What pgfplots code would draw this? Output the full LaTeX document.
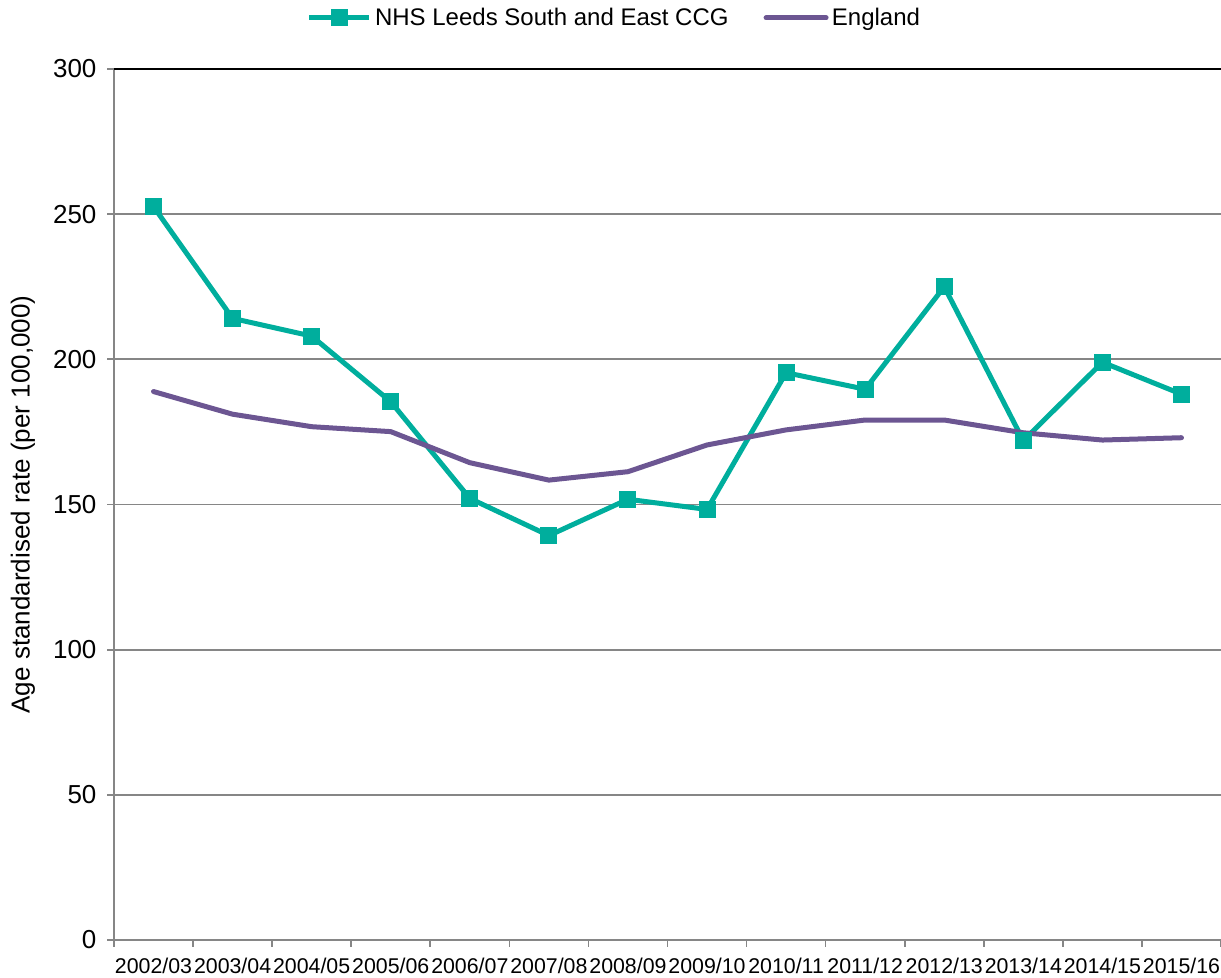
\documentclass[border=0pt]{standalone}
\usepackage{pgfplots}
\pgfplotsset{compat=1.18}
\usepackage{fontspec}
\setmainfont{Liberation Sans}
\definecolor{teal1}{RGB}{0,174,157}
\definecolor{purp}{RGB}{108,86,146}
\definecolor{gridg}{RGB}{134,134,134}
\begin{document}
\begin{tikzpicture}
\begin{axis}[
  name=ax,
  scale only axis,
  width=664.2pt, height=522.6pt,
  xmin=-0.5, xmax=13.5,
  ymin=0, ymax=300,
  axis x line*=bottom, axis y line*=left,
  axis line style={gridg, line width=1.3pt},
  xtick={0,...,13},
  xticklabels={2002/03,2003/04,2004/05,2005/06,2006/07,2007/08,2008/09,2009/10,2010/11,2011/12,2012/13,2013/14,2014/15,2015/16},
  minor xtick={-0.5,0.5,...,13.5},
  major x tick style={draw=none},
  minor x tick style={gridg, line width=1pt},
  minor tick length=4pt,
  ytick={0,50,...,250},
  extra y ticks={300},
  extra y tick style={grid style={black, line width=1.3pt}},
  ymajorgrids,
  grid style={gridg, line width=1.1pt},
  y tick style={gridg, line width=1pt},
  major tick length=4pt,
  tick align=outside,
  /pgf/number format/assume math mode=true,
  yticklabel style={font=\fontsize{15.6}{18}\selectfont, xshift=-3pt},
  xticklabel style={font=\fontsize{12.8}{15}\selectfont, yshift=-3pt},
  ylabel={Age standardised rate (per 100,000)},
  ylabel style={font=\fontsize{15.6}{18}\selectfont, yshift=-4pt},
  legend style={at={(0.4526,1.0586)}, anchor=center, draw=none, fill=none,
    font=\fontsize{14.4}{17}\selectfont, legend columns=2,
    /tikz/every even column/.append style={column sep=19pt}},
  legend image code/.code={\draw[mark repeat=2,mark phase=2] plot coordinates {(0pt,0pt)(18pt,0pt)(36pt,0pt)};},
  clip=false,
]
\addplot[teal1, line width=3pt, mark=square*, mark size=4.8pt, mark options={solid, line width=0pt}] coordinates {
(0,252.6) (1,214.1) (2,208.0) (3,185.4) (4,152.1) (5,139.3) (6,151.8) (7,148.3) (8,195.4) (9,189.7) (10,225.0) (11,172.0) (12,199.0) (13,188.0)};
\addlegendentry{NHS Leeds South and East CCG}
\addplot[purp, line width=3pt, line cap=round, line join=round] coordinates {
(0,188.9) (1,181.1) (2,176.8) (3,175.1) (4,164.4) (5,158.4) (6,161.3) (7,170.5) (8,175.7) (9,179.1) (10,179.1) (11,174.7) (12,172.2) (13,173.0)};
\addlegendentry{England}
\end{axis}
\pgfresetboundingbox
\useasboundingbox ([xshift=-68.4pt,yshift=-22.2pt]ax.south west) rectangle ([yshift=41.4pt]ax.north east);
\end{tikzpicture}
\end{document}
